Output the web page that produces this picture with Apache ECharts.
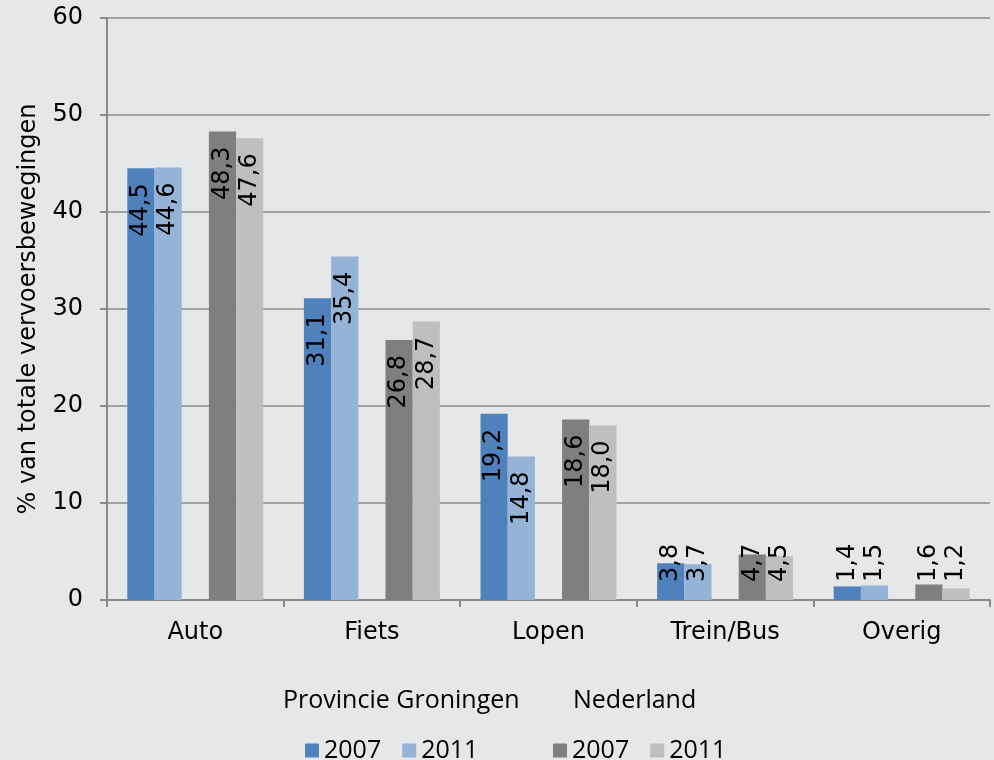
<!DOCTYPE html>
<html lang="nl">
<head>
    <meta charset="utf-8">
    <title>Vervoerswijze</title>
    <script src="https://cdn.jsdelivr.net/npm/echarts@6/dist/echarts.min.js"></script>
    <style>
        html, body { margin: 0; padding: 0; background: #e6e7e9; }
        #main { width: 994px; height: 760px; }
    </style>
</head>
<body>
<div id="main"></div>
<script>
    // data
    var categories = ['Auto', 'Fiets', 'Lopen', 'Trein/Bus', 'Overig'];
    var pg2007 = [44.5, 31.1, 19.2, 3.8, 1.4];
    var pg2011 = [44.6, 35.4, 14.8, 3.7, 1.5];
    var nl2007 = [48.3, 26.8, 18.6, 4.7, 1.6];
    var nl2011 = [47.6, 28.7, 18.0, 4.5, 1.2];
    var yTicks = [0, 10, 20, 30, 40, 50, 60];

    var chart = echarts.init(document.getElementById('main'));
    var fontMain = 'DejaVu Sans';

    function labelFmt(p) {
        return p.value.toFixed(1).replace('.', ',');
    }

    // small bars get their label from the bottom up, like the original
    function toItems(vals) {
        return vals.map(function (v) {
            if (v < 10) {
                return {
                    value: v,
                    label: { position: 'insideBottom', align: 'left', distance: 18 }
                };
            }
            return v;
        });
    }

    function barSeries(name, vals, color) {
        return {
            name: name,
            type: 'bar',
            barGap: 0,
            barCategoryGap: '23%',
            itemStyle: { color: color },
            label: {
                show: true,
                position: 'insideTop',
                distance: 15,
                rotate: 90,
                align: 'right',
                verticalAlign: 'middle',
                fontFamily: fontMain,
                fontSize: 24,
                color: '#000',
                formatter: labelFmt
            },
            data: toItems(vals)
        };
    }

    var option = {
        backgroundColor: '#e6e7e9',
        animation: false,
        grid: { left: 107, right: 4, top: 18, bottom: 160 },
        legend: [{
            left: 300, top: 733,
            itemWidth: 14, itemHeight: 14, itemGap: 21,
            icon: 'rect',
            textStyle: { fontFamily: 'Open Sans', fontSize: 25, color: '#000' },
            data: ['PG 2007', 'PG 2011'],
            formatter: function (n) { return n.slice(3); }
        }, {
            left: 548, top: 733,
            itemWidth: 14, itemHeight: 14, itemGap: 21,
            icon: 'rect',
            textStyle: { fontFamily: 'Open Sans', fontSize: 25, color: '#000' },
            data: ['NL 2007', 'NL 2011'],
            formatter: function (n) { return n.slice(3); }
        }],
        graphic: [{
            type: 'text', left: 283, top: 688,
            style: { text: 'Provincie Groningen', font: '25px "Open Sans"', fill: '#000' }
        }, {
            type: 'text', left: 573, top: 688,
            style: { text: 'Nederland', font: '25px "Open Sans"', fill: '#000' }
        }],
        xAxis: {
            type: 'category',
            data: categories,
            axisLine: { lineStyle: { color: '#8a8a8a', width: 2 } },
            axisTick: { show: true, length: 7, lineStyle: { color: '#8a8a8a', width: 2 } },
            axisLabel: { margin: 21, fontFamily: fontMain, fontSize: 24, color: '#000' }
        },
        yAxis: {
            type: 'value',
            min: yTicks[0],
            max: yTicks[yTicks.length - 1],
            interval: 10,
            name: '% van totale vervoersbewegingen',
            nameLocation: 'middle',
            nameGap: 66,
            nameTextStyle: { fontFamily: fontMain, fontSize: 24, color: '#000' },
            axisLine: { show: true, lineStyle: { color: '#8a8a8a', width: 2 } },
            axisTick: { show: true, length: 7, lineStyle: { color: '#8a8a8a', width: 2 } },
            axisLabel: { margin: 24, fontFamily: fontMain, fontSize: 24, color: '#000' },
            splitLine: { lineStyle: { color: '#8a8a8a', width: 1.5 } }
        },
        series: [
            barSeries('PG 2007', pg2007, '#4f81bd'),
            barSeries('PG 2011', pg2011, '#95b3d7'),
            // empty slot between the two groups
            { name: 'gap', type: 'bar', barGap: 0, data: [] },
            barSeries('NL 2007', nl2007, '#7f7f7f'),
            barSeries('NL 2011', nl2011, '#bfbfbf')
        ]
    };
    chart.setOption(option);
</script>
</body>
</html>
